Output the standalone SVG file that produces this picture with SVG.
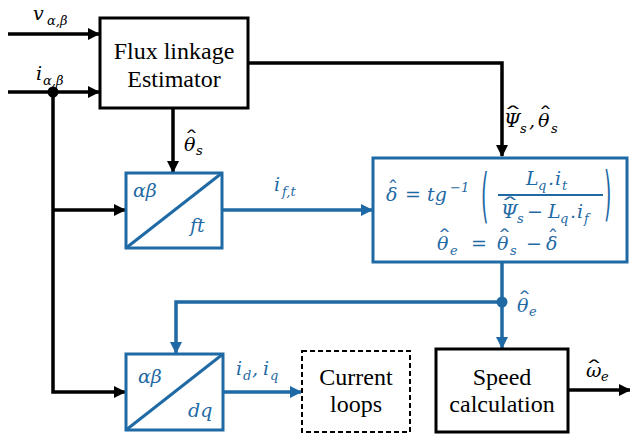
<svg xmlns="http://www.w3.org/2000/svg" width="630" height="435" viewBox="0 0 630 435">
<style>
.box{fill:#fff;stroke:#000;stroke-width:3}
.bbox{fill:#fff;stroke:#1f6aa5;stroke-width:3}
.dash{fill:#fff;stroke:#000;stroke-width:2;stroke-dasharray:5 3}
.k{fill:none;stroke:#000;stroke-width:3.5}
.b{fill:none;stroke:#1f6aa5;stroke-width:3.5}
.t{font-family:'Liberation Serif','Times New Roman',serif;font-size:24px;fill:#000;text-anchor:middle}
.m{font-family:'DejaVu Serif','Liberation Serif',serif;font-style:italic;font-size:19px;fill:#000}
.mb{font-family:'DejaVu Serif','Liberation Serif',serif;font-style:italic;font-size:19px;fill:#1f6aa5}
.n{font-style:normal}
.s{font-size:13px}
.h{font-family:'DejaVu Serif',serif;font-size:18px;text-anchor:middle;fill:#000}
.hb{font-family:'DejaVu Serif',serif;font-size:18px;text-anchor:middle;fill:#1f6aa5}
.p{font-family:'DejaVu Sans',sans-serif;font-size:19px;fill:#1f6aa5}
</style>
<defs>
<marker id="ak" markerUnits="userSpaceOnUse" markerWidth="12" markerHeight="12" refX="11" refY="6" orient="auto"><path d="M0,0 L12,6 L0,12 Z" fill="#000"/></marker>
<marker id="ab" markerUnits="userSpaceOnUse" markerWidth="12" markerHeight="12" refX="11" refY="6" orient="auto"><path d="M0,0 L12,6 L0,12 Z" fill="#1f6aa5"/></marker>
</defs>
<g id="connectors">
<path class="k" d="M8,34 H99" marker-end="url(#ak)"/>
<path class="k" d="M8,92 H99" marker-end="url(#ak)"/>
<path class="k" d="M53,92 V392 H125" marker-end="url(#ak)"/>
<path class="k" d="M53,210 H125" marker-end="url(#ak)"/>
<path class="k" d="M248,63 H502 V156" marker-end="url(#ak)"/>
<path class="k" d="M173,108 V172" marker-end="url(#ak)"/>
<path class="b" d="M222,210 H372" marker-end="url(#ab)"/>
<path class="b" d="M502,263 V348" marker-end="url(#ab)"/>
<path class="b" d="M502,302 H176 V353" marker-end="url(#ab)"/>
<path class="b" d="M224,392 H301" marker-end="url(#ab)"/>
<path class="k" d="M568,390 H630" marker-end="url(#ak)"/>
<circle cx="53" cy="92" r="5.5" fill="#000"/>
<circle cx="502" cy="302" r="5.5" fill="#1f6aa5"/>
</g>
<g id="labels">
<text class="m"><tspan x="33" y="20">v</tspan><tspan class="s" x="47" y="25">α,β</tspan></text>
<text class="m"><tspan x="36" y="80">i</tspan><tspan class="s" x="43" y="85">α,β</tspan></text>
<text class="m"><tspan x="184" y="151">θ</tspan><tspan class="s" x="196" y="155">s</tspan></text>
<text class="h" transform="translate(191.5,145) scale(1.6,1)">ˆ</text>
<text class="m"><tspan x="504" y="127">Ψ</tspan><tspan class="s" x="520" y="133">s</tspan><tspan x="529" y="127">,</tspan><tspan x="538" y="127">θ</tspan><tspan class="s" x="551" y="133">s</tspan></text>
<text class="h" transform="translate(513,121) scale(2.2,1)">ˆ</text>
<text class="h" transform="translate(545.5,121) scale(1.6,1)">ˆ</text>
<text class="mb"><tspan x="274" y="191">i</tspan><tspan class="s" x="282" y="196">f,t</tspan></text>
<text class="mb"><tspan x="236" y="375">i</tspan><tspan class="s" x="243" y="380">d</tspan><tspan x="252" y="375">,</tspan><tspan x="263" y="375">i</tspan><tspan class="s" x="270" y="380">q</tspan></text>
<text class="mb"><tspan x="517" y="312">θ</tspan><tspan class="s" x="529" y="316">e</tspan></text>
<text class="hb" transform="translate(524.5,306) scale(1.6,1)">ˆ</text>
<text class="m"><tspan x="586" y="377">ω</tspan><tspan class="s" x="601" y="381">e</tspan></text>
<text class="h" transform="translate(594,375) scale(2,1)">ˆ</text>
</g>
<g id="flux">
<rect class="box" x="100" y="18" width="148" height="90"/>
<text class="t" x="174" y="59">Flux linkage</text>
<text class="t" x="174" y="87">Estimator</text>
</g>
<g id="abft">
<rect class="bbox" x="126" y="173" width="96" height="75"/>
<path d="M126,248 L222,173" stroke="#1f6aa5" stroke-width="3"/>
<text class="mb" x="133" y="197">αβ</text>
<text class="mb" x="190" y="232">ft</text>
</g>
<g id="estimator">
<rect class="bbox" x="373" y="158" width="254" height="104"/>
<text class="mb"><tspan x="386" y="201">δ</tspan><tspan class="n" x="405" y="201">=</tspan><tspan x="427" y="201">tg</tspan><tspan class="s" x="450" y="192">−1</tspan></text>
<text class="hb" transform="translate(393,195) scale(1.2,1)">ˆ</text>
<text class="p" transform="translate(481,216) scale(1,3.1)">(</text>
<text class="p" transform="translate(604,214) scale(1,3.1)">)</text>
<text class="mb"><tspan x="526" y="185">L</tspan><tspan class="s" x="538" y="190">q</tspan><tspan x="548" y="185">.</tspan><tspan x="555" y="185">i</tspan><tspan class="s" x="562" y="190">t</tspan></text>
<path d="M498,195 H603" stroke="#1f6aa5" stroke-width="2"/>
<text class="mb"><tspan x="501" y="218">Ψ</tspan><tspan class="s" x="517" y="223">s</tspan><tspan class="n" x="527" y="218">−</tspan><tspan x="548" y="218">L</tspan><tspan class="s" x="560" y="223">q</tspan><tspan x="570" y="218">.</tspan><tspan x="577" y="218">i</tspan><tspan class="s" x="584" y="223">f</tspan></text>
<text class="hb" transform="translate(510,212) scale(2.2,1)">ˆ</text>
<text class="mb"><tspan x="437" y="250">θ</tspan><tspan class="s" x="450" y="255">e</tspan><tspan class="n" x="471" y="250">=</tspan><tspan x="497" y="250">θ</tspan><tspan class="s" x="510" y="255">s</tspan><tspan class="n" x="526" y="250">−</tspan><tspan x="546" y="250">δ</tspan></text>
<text class="hb" transform="translate(444.5,244) scale(1.6,1)">ˆ</text>
<text class="hb" transform="translate(504.5,244) scale(1.6,1)">ˆ</text>
<text class="hb" transform="translate(553,244) scale(1.2,1)">ˆ</text>
</g>
<g id="abdq">
<rect class="bbox" x="126" y="354" width="97" height="76"/>
<path d="M126,430 L223,354" stroke="#1f6aa5" stroke-width="3"/>
<text class="mb" x="138" y="383">αβ</text>
<text class="mb" x="188" y="417">dq</text>
</g>
<g id="current">
<rect class="dash" x="302" y="351" width="108" height="81"/>
<text class="t" x="356" y="385">Current</text>
<text class="t" x="356" y="412">loops</text>
</g>
<g id="speed">
<rect class="box" x="436" y="349" width="132" height="83"/>
<text class="t" x="502" y="385">Speed</text>
<text class="t" x="502" y="412">calculation</text>
</g>
</svg>
